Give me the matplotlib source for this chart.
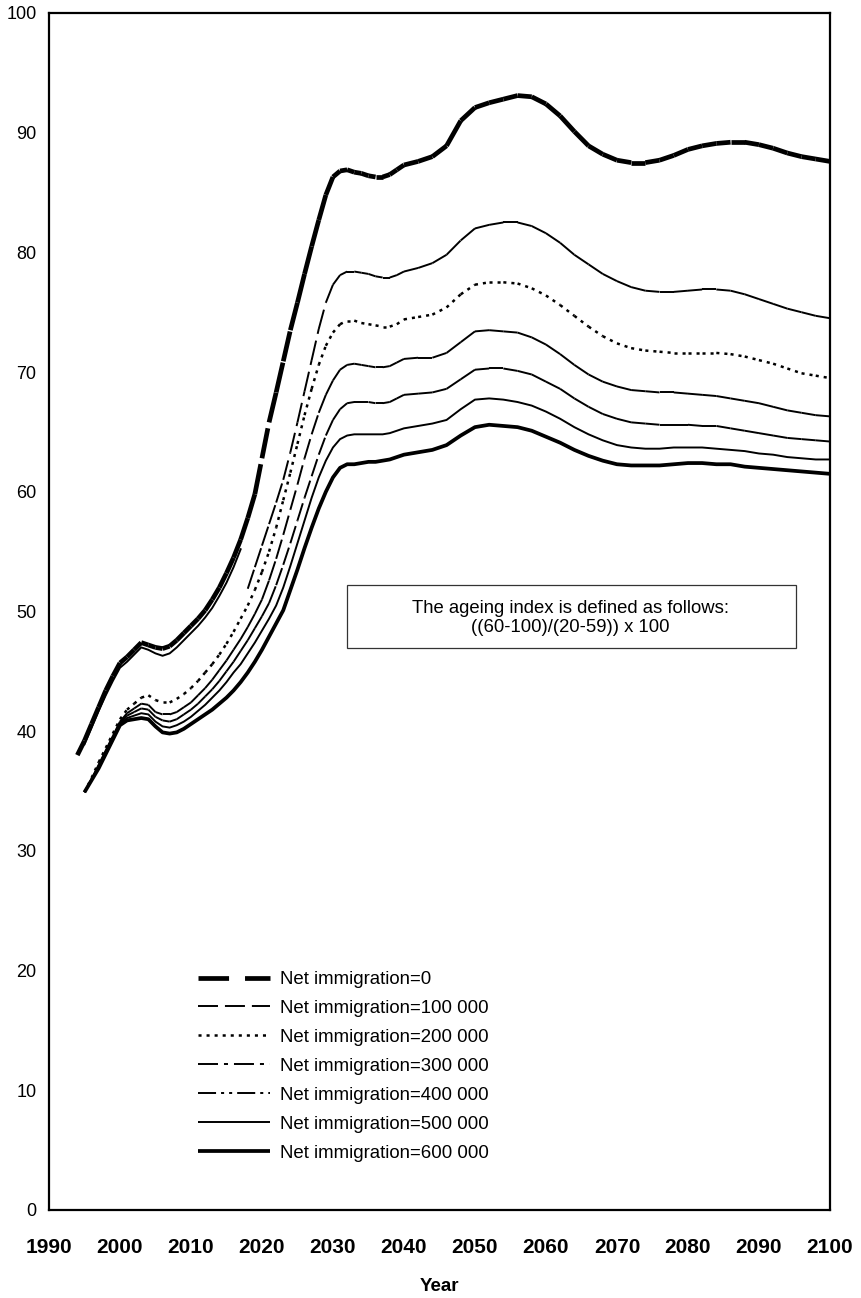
import numpy as np
import matplotlib
matplotlib.use("Agg")
import matplotlib.pyplot as plt
from matplotlib.collections import LineCollection
from matplotlib.lines import Line2D
from matplotlib.patches import Rectangle

plt.rcParams['font.family'] = ['Liberation Sans', 'DejaVu Sans']
plt.rcParams['lines.scale_dashes'] = False

# ---------------- data ----------------
years = list(range(1994, 2041)) + list(range(2042, 2101, 2))
nan = float('nan')

net0 = [38.0, 39.2, 40.6, 42.0, 43.4, 44.6, 45.7, 46.2, 46.8, 47.4, 47.2, 47.0, 46.9, 47.1,
        47.6, 48.2, 48.8, 49.4, 50.1, 51.0, 52.0, 53.2, 54.5, 56.0, 57.8, 59.8, 62.8, 65.8,
        68.3, 70.9, 73.5, 75.8, 78.2, 80.5, 82.7, 84.8, 86.3, 86.8, 86.9, 86.7, 86.6, 86.4,
        86.3, 86.3, 86.5, 86.9, 87.3,
        87.6, 88.0, 88.9, 91.0, 92.1, 92.5, 92.8, 93.1, 93.0, 92.4, 91.4, 90.1, 88.9, 88.2,
        87.7, 87.5, 87.5, 87.7, 88.1, 88.6, 88.9, 89.1, 89.2, 89.2, 89.0, 88.7, 88.3, 88.0,
        87.8, 87.6]

years_100k_upper = list(range(1995, 2018))
net100k_upper = [38.9, 40.3, 41.7, 43.0, 44.2, 45.3, 45.8, 46.4, 47.0, 46.8, 46.5, 46.3,
                 46.5, 47.0, 47.6, 48.2, 48.8, 49.5, 50.3, 51.3, 52.4, 53.7, 55.2]

net100k = [nan] * 24 + [51.9, 53.7, 55.5, 57.3, 59.1, 61.0, 63.3, 65.8, 68.4, 71.0, 73.6,
                        75.8, 77.3, 78.1, 78.4, 78.4, 78.3, 78.2, 78.0, 77.9, 77.9, 78.1, 78.4,
                        78.7, 79.1, 79.8, 81.0, 82.0, 82.3, 82.5, 82.5, 82.2, 81.6, 80.8, 79.8,
                        79.0, 78.2, 77.6, 77.1, 76.8, 76.7, 76.7, 76.8, 76.9, 76.9, 76.8, 76.5,
                        76.1, 75.7, 75.3, 75.0, 74.7, 74.5]

net200k = [nan, 34.9, 36.1, 37.4, 38.6, 39.8, 41.0, 41.8, 42.3, 42.8, 43.0, 42.6, 42.4, 42.4,
           42.7, 43.1, 43.6, 44.2, 44.9, 45.6, 46.4, 47.3, 48.3, 49.4, 50.5, 51.8, 53.3, 55.0,
           57.0, 59.3, 61.6, 64.0, 66.4, 68.6, 70.6, 72.2, 73.3, 74.0, 74.3, 74.3, 74.1, 74.0,
           73.9, 73.8, 73.8, 74.0, 74.4,
           74.6, 74.8, 75.4, 76.5, 77.3, 77.5, 77.5, 77.4, 77.0, 76.4, 75.6, 74.7, 73.8, 73.0,
           72.4, 72.0, 71.8, 71.7, 71.6, 71.6, 71.6, 71.6, 71.5, 71.3, 71.0, 70.7, 70.3, 69.9,
           69.7, 69.5]

net300k = [nan, 34.9, 36.0, 37.2, 38.4, 39.6, 40.8, 41.5, 41.9, 42.3, 42.2, 41.6, 41.4, 41.4,
           41.6, 42.0, 42.4, 43.0, 43.6, 44.3, 45.1, 45.9, 46.8, 47.7, 48.7, 49.8, 51.0, 52.6,
           54.4, 56.4, 58.5, 60.6, 62.8, 64.8, 66.6, 68.1, 69.3, 70.2, 70.6, 70.7, 70.6, 70.5,
           70.4, 70.4, 70.5, 70.8, 71.1,
           71.2, 71.2, 71.6, 72.5, 73.4, 73.5, 73.4, 73.3, 72.9, 72.3, 71.5, 70.6, 69.8, 69.2,
           68.8, 68.5, 68.4, 68.3, 68.3, 68.2, 68.1, 68.0, 67.8, 67.6, 67.4, 67.1, 66.8, 66.6,
           66.4, 66.3]

net400k = [nan, 34.9, 36.0, 37.1, 38.3, 39.5, 40.7, 41.3, 41.6, 41.9, 41.8, 41.2, 40.9, 40.8,
           41.0, 41.4, 41.8, 42.3, 42.9, 43.5, 44.2, 45.0, 45.8, 46.7, 47.6, 48.6, 49.6, 50.7,
           52.2, 53.9, 55.7, 57.6, 59.5, 61.3, 63.1, 64.7, 66.0, 66.9, 67.4, 67.5, 67.5, 67.5,
           67.4, 67.4, 67.5, 67.8, 68.1,
           68.2, 68.3, 68.6, 69.4, 70.2, 70.3, 70.3, 70.1, 69.8, 69.2, 68.6, 67.8, 67.1, 66.5,
           66.1, 65.8, 65.7, 65.6, 65.6, 65.6, 65.5, 65.5, 65.3, 65.1, 64.9, 64.7, 64.5, 64.4,
           64.3, 64.2]

net500k = [nan, 34.9, 35.9, 37.0, 38.2, 39.4, 40.6, 41.1, 41.3, 41.5, 41.4, 40.8, 40.4, 40.3,
           40.5, 40.8, 41.2, 41.7, 42.2, 42.8, 43.4, 44.1, 44.9, 45.6, 46.5, 47.4, 48.4, 49.4,
           50.5, 52.0, 53.8, 55.7, 57.6, 59.5, 61.2, 62.6, 63.7, 64.4, 64.7, 64.8, 64.8, 64.8,
           64.8, 64.8, 64.9, 65.1, 65.3,
           65.5, 65.7, 66.0, 66.9, 67.7, 67.8, 67.7, 67.5, 67.2, 66.7, 66.1, 65.4, 64.8, 64.3,
           63.9, 63.7, 63.6, 63.6, 63.7, 63.7, 63.7, 63.6, 63.5, 63.4, 63.2, 63.1, 62.9, 62.8,
           62.7, 62.7]

net600k = [nan, 34.9, 35.9, 36.9, 38.1, 39.3, 40.5, 40.9, 41.0, 41.1, 41.0, 40.4, 39.9, 39.8,
           39.9, 40.2, 40.6, 41.0, 41.4, 41.8, 42.3, 42.8, 43.4, 44.1, 44.9, 45.8, 46.8, 47.9,
           49.0, 50.1, 51.8, 53.5, 55.3, 57.0, 58.6, 60.0, 61.2, 62.0, 62.3, 62.3, 62.4, 62.5,
           62.5, 62.6, 62.7, 62.9, 63.1,
           63.3, 63.5, 63.9, 64.7, 65.4, 65.6, 65.5, 65.4, 65.1, 64.6, 64.1, 63.5, 63.0, 62.6,
           62.3, 62.2, 62.2, 62.2, 62.3, 62.4, 62.4, 62.3, 62.3, 62.1, 62.0, 61.9, 61.8, 61.7,
           61.6, 61.5]

labels = ["Net immigration=0", "Net immigration=100 000", "Net immigration=200 000",
          "Net immigration=300 000", "Net immigration=400 000",
          "Net immigration=500 000", "Net immigration=600 000"]

xticks = list(range(1990, 2101, 10))
yticks = list(range(0, 101, 10))
box_text = "The ageing index is defined as follows:\n((60-100)/(20-59)) x 100"

# ---------------- figure ----------------
fig = plt.figure(figsize=(8.62, 12.98), dpi=100)
ax = fig.add_axes([0.0568, 0.0678, 0.9060, 0.9222])


def segments(xs, ys):
    segs = []
    for i in range(len(xs) - 1):
        if np.isfinite(ys[i]) and np.isfinite(ys[i + 1]):
            segs.append([(xs[i], ys[i]), (xs[i + 1], ys[i + 1])])
    return segs


# (linewidth pt, dash pattern in points or None for solid)
styles = [
    (3.4, (22.0, 11.5)),
    (1.4, (14.4, 5.0)),
    (1.8, (2.2, 3.6)),
    (1.4, (14.4, 4.3, 2.9, 4.3)),
    (1.4, (13.0, 3.6, 2.2, 3.6, 2.2, 3.6)),
    (1.4, None),
    (2.7, None),
]
series = [net0, net100k, net200k, net300k, net400k, net500k, net600k]

handles = []
for vals, (lw, dash), lab in zip(series, styles, labels):
    if dash is None:
        ax.plot(years, vals, color='black', lw=lw, solid_capstyle='butt')
        h = Line2D([], [], color='black', lw=lw, solid_capstyle='butt')
    else:
        lc = LineCollection(segments(years, vals), colors='black', linewidths=lw,
                            linestyles=[(0, dash)], capstyle='butt')
        ax.add_collection(lc)
        h = Line2D([], [], color='black', lw=lw, dashes=dash, dash_capstyle='butt')
    handles.append(h)

# thin companion line of the upper bundle
ax.plot(years_100k_upper, net100k_upper, color='black', lw=1.4)

ax.set_xlim(1990, 2100)
ax.set_ylim(0, 100)
ax.set_xticks(xticks)
ax.set_xticklabels([str(t) for t in xticks], fontsize=15, fontweight='bold')
ax.set_yticks(yticks)
ax.set_yticklabels([str(t) for t in yticks], fontsize=13)
ax.tick_params(axis='x', length=0, pad=20)
ax.tick_params(axis='y', length=0, pad=9)
ax.set_xlabel("Year", fontsize=13.5, fontweight='bold', labelpad=15)
for sp in ax.spines.values():
    sp.set_linewidth(1.6)

# definition box
ax.add_patch(Rectangle((0.3816, 0.4695), 0.5749, 0.0526, transform=ax.transAxes,
                       fill=False, edgecolor='#333333', lw=0.9))
ax.text(0.668, 0.4945, box_text, transform=ax.transAxes, ha='center', va='center',
        fontsize=13.3, linespacing=1.2, multialignment='center')

leg = ax.legend(handles, labels, loc='upper left',
                bbox_to_anchor=(198 / 862, 1 - 971 / 1298), bbox_transform=fig.transFigure,
                frameon=False, fontsize=13.4, handlelength=3.85, handletextpad=0.55,
                labelspacing=0.64, borderpad=0, borderaxespad=0)

fig.savefig("out.png", dpi=100)
